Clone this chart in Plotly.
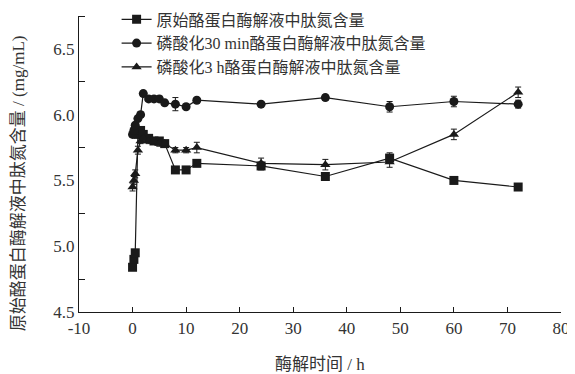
import plotly.graph_objects as go

time_h = [0, 0.25, 0.5, 1, 1.5, 2, 3, 4, 5, 6, 8, 10, 12, 24, 36, 48, 60, 72]

orig = [4.84, 4.90, 4.95, 5.85, 5.88, 5.85, 5.82, 5.80, 5.80, 5.78, 5.58, 5.58, 5.63, 5.61, 5.53, 5.67, 5.50, 5.45]
orig_err = [0.02, 0.02, 0.02, 0.02, 0.02, 0.02, 0.02, 0.02, 0.02, 0.02, 0.02, 0.02, 0.02, 0.03, 0.02, 0.04, 0.02, 0.02]

p30 = [5.85, 5.88, 5.92, 5.97, 6.00, 6.16, 6.12, 6.12, 6.12, 6.09, 6.08, 6.06, 6.11, 6.08, 6.13, 6.06, 6.10, 6.08]
p30_err = [0.02, 0.02, 0.02, 0.02, 0.02, 0.02, 0.02, 0.02, 0.02, 0.02, 0.05, 0.02, 0.02, 0.02, 0.02, 0.04, 0.04, 0.03]

p3h = [5.45, 5.50, 5.55, 5.73, 5.80, 5.82, 5.80, 5.80, 5.78, 5.78, 5.73, 5.73, 5.75, 5.63, 5.62, 5.64, 5.85, 6.17]
p3h_err = [0.03, 0.03, 0.03, 0.03, 0.02, 0.02, 0.02, 0.02, 0.02, 0.02, 0.02, 0.02, 0.04, 0.04, 0.04, 0.04, 0.04, 0.04]

names = ["原始酪蛋白酶解液中肽氮含量", "磷酸化30 min酪蛋白酶解液中肽氮含量", "磷酸化3 h酪蛋白酶解液中肽氮含量"]
series = [orig, p30, p3h]
errors = [orig_err, p30_err, p3h_err]
symbols = ["square", "circle", "triangle-up"]

y_labels = [4.5, 5.0, 5.5, 6.0, 6.5]
x_ticks = [-10, 0, 10, 20, 30, 40, 50, 60, 70, 80]

x_title = "酶解时间 / h"
y_title = "原始酪蛋白酶解液中肽氮含量 / (mg/mL)"

FONT = "Liberation Serif, Noto Sans CJK SC, serif"
INK = "#1a1a1a"
TXT = "#333"

fig = go.Figure()
for name, ys, es, sym in zip(names, series, errors, symbols):
    fig.add_trace(go.Scatter(
        x=time_h, y=ys, name=name, mode="lines+markers",
        line=dict(color=INK, width=1.2),
        marker=dict(symbol=sym, size=9, color=INK),
        error_y=dict(type="data", array=es, visible=True, color=INK, thickness=1, width=3),
    ))

# page body adds an 8px margin: figure is 567x366 drawn at (8, 8)
fig.update_layout(
    width=567, height=366,
    margin=dict(l=71, r=14, t=8, b=62, autoexpand=False),
    paper_bgcolor="white", plot_bgcolor="white",
    font=dict(family=FONT, size=16, color=INK),
    showlegend=True,
    legend=dict(x=0.078, y=1.046, xanchor="left", yanchor="top",
                bgcolor="rgba(0,0,0,0)", font=dict(size=16, family=FONT, color=TXT),
                tracegroupgap=0, itemwidth=30),
    annotations=[
        dict(text=y_title, textangle=-90, xref="paper", yref="paper",
             x=-0.124, y=0.436, xanchor="center", yanchor="middle", showarrow=False,
             font=dict(size=17, family=FONT, color=TXT)),
        dict(text=x_title, xref="paper", yref="paper",
             x=0.5, y=-0.179, xanchor="center", yanchor="middle", showarrow=False,
             font=dict(size=17, family=FONT, color=TXT)),
    ],
)
fig.update_xaxes(
    range=[-10, 80], tickvals=x_ticks, ticktext=[str(v) for v in x_ticks],
    ticks="inside", ticklen=5, tickcolor=INK, showline=True, linecolor=INK, linewidth=1.2,
    showgrid=False, zeroline=False, automargin=False,
    tickfont=dict(size=17, family=FONT, color=TXT),
)
fig.update_yaxes(
    range=[4.5, 6.75], tickvals=y_labels, ticktext=[f"{v:.1f}" for v in y_labels],
    ticks="", showline=True, linecolor=INK, linewidth=1.2,
    showgrid=False, zeroline=False, automargin=False,
    minor=dict(ticks="inside", tick0=4.75, dtick=0.5, ticklen=6, tickcolor=INK, showgrid=False),
    tickfont=dict(size=17, family=FONT, color=TXT),
)

fig.write_html("out.html")
